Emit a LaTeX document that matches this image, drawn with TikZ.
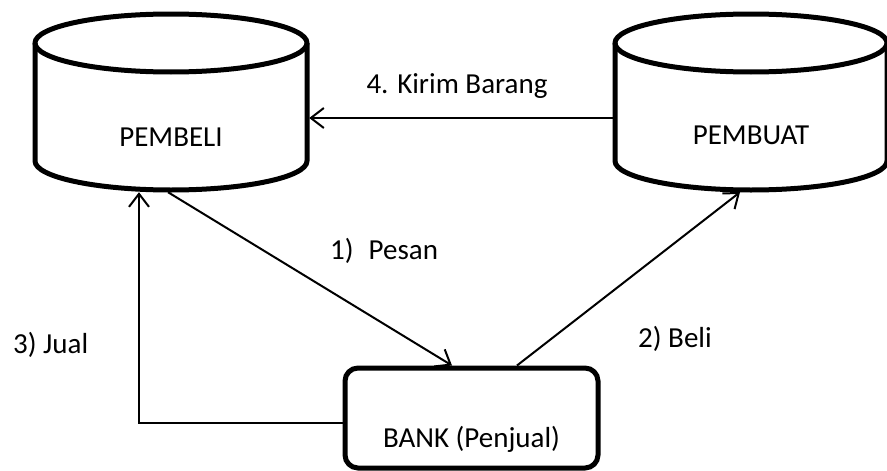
\documentclass[tikz,border=0pt]{standalone}
\usepackage{fontspec}
\setmainfont{Carlito}
\usetikzlibrary{arrows.meta}
\tikzset{
  cylline/.style={line width=5pt, line join=round},
  hull/.style={draw=none, rectangle, minimum width=272pt, minimum height=176pt, inner sep=0pt},
  lbl/.style={font=\fontsize{29}{35}\selectfont, inner sep=0pt},
  bankbox/.style={draw, line width=5pt, rounded corners=13pt, minimum width=253pt, minimum height=100pt, inner sep=0pt},
  conn/.style={line width=2pt, -{Straight Barb[length=13pt,width=20pt,line width=2pt]}}
}
\begin{document}
\begin{tikzpicture}[x=1pt,y=-1pt]
\useasboundingbox (0,0) rectangle (887,471);
% PEMBELI cylinder
\node[hull] (pembeli) at (171,102) {};
\draw[cylline] (171,43) ellipse [x radius=136pt, y radius=29pt];
\draw[cylline] (35,43) -- (35,161) arc[start angle=180, end angle=360, x radius=136pt, y radius=29pt] -- (307,43);
\node[lbl, anchor=base] (pembelitxt) at (171,146) {PEMBELI};
% PEMBUAT cylinder
\node[hull] (pembuat) at (751,102) {};
\draw[cylline] (751,43) ellipse [x radius=136pt, y radius=29pt];
\draw[cylline] (615,43) -- (615,161) arc[start angle=180, end angle=360, x radius=136pt, y radius=29pt] -- (887,43);
\node[lbl, anchor=base] (pembuattxt) at (751,144) {PEMBUAT};
% BANK
\node[bankbox] (bank) at (471.5,418) {};
\node[lbl, anchor=base] (banktxt) at (471.5,447) {BANK (Penjual)};
% labels
\node[lbl, anchor=base] (l4) at (457,93) {4. Kirim Barang};
\node[lbl, anchor=base west] (l1) at (330,259) {1)\hspace{15pt}Pesan};
\node[lbl, anchor=base west] (l2) at (638,347) {2) Beli};
\node[lbl, anchor=base west] (l3) at (13,353) {3) Jual};
% connectors
\draw[conn, line width=1.6pt] ([yshift=-16pt]pembuat.west) -- ([yshift=-16pt,xshift=2pt]pembeli.east);
\draw[conn] ([xshift=-3pt,yshift=-2pt]pembeli.south) -- ([xshift=-19.5pt]bank.north);
\draw[conn] ([xshift=45.5pt]bank.north) -- ([xshift=-11pt,yshift=-2pt]pembuat.south);
\draw[conn] ([yshift=-5pt]bank.west) -| ([xshift=-32pt,yshift=-2pt]pembeli.south);
\end{tikzpicture}
\end{document}
